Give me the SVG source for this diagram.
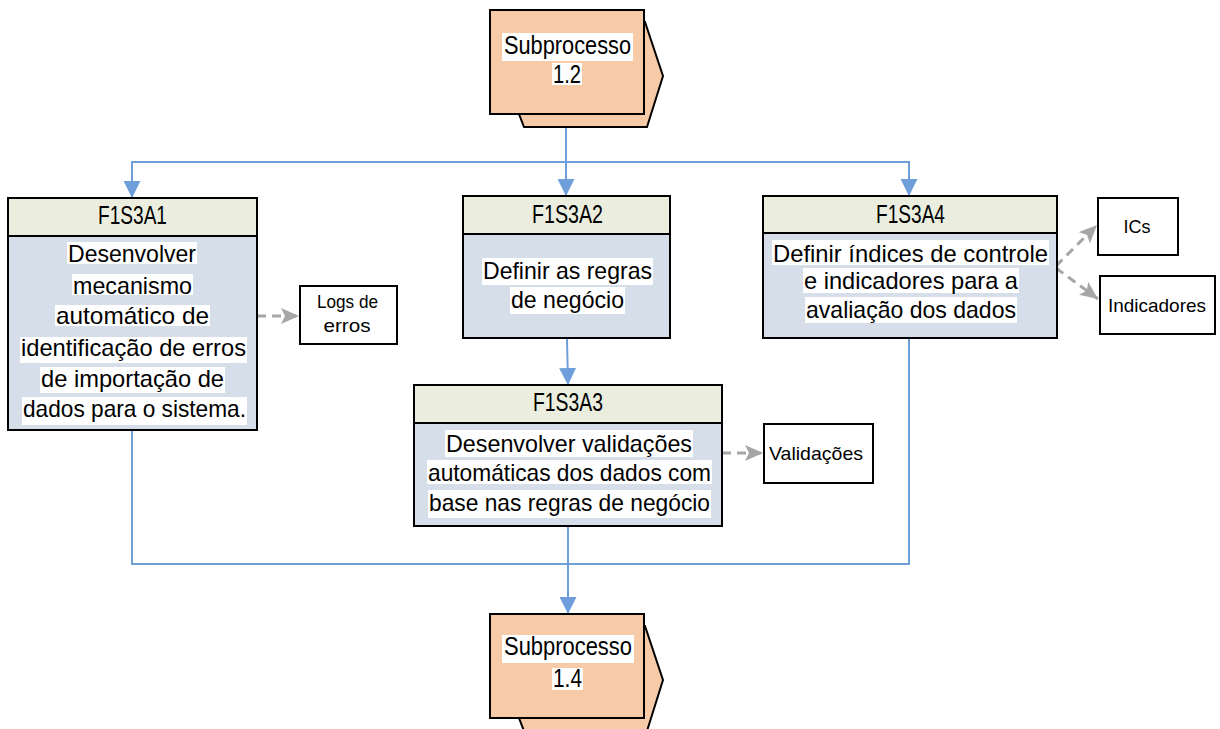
<svg xmlns="http://www.w3.org/2000/svg" width="1220" height="729" viewBox="0 0 1220 729">
  <style>
    .bg { fill: #ffffff; }
    .sub { fill: #F8CBA8; stroke: #000000; stroke-width: 2; }
    .hdr { fill: #EBEEDF; stroke: #000000; stroke-width: 2; }
    .body { fill: #D5DEE9; stroke: #000000; stroke-width: 2; }
    .out { fill: #ffffff; stroke: #000000; stroke-width: 2; }
    .t { font-family: "Liberation Sans", Arial, sans-serif; fill: #000000; text-anchor: middle; }
    .big { font-size: 25px; }
    .mid { font-size: 24px; }
    .sm { font-size: 19px; }
    .flow { fill: none; stroke: #6F9FDB; stroke-width: 2; }
    .flowA { fill: none; stroke: #6F9FDB; stroke-width: 2; marker-end: url(#blueHead); }
    .art { fill: none; stroke: #A6A6A6; stroke-width: 3; stroke-dasharray: 9 6; marker-end: url(#grayHead); }
  </style>
  <defs>
    <marker id="blueHead" markerUnits="userSpaceOnUse" viewBox="0 0 17 17" markerWidth="17" markerHeight="17" refX="17" refY="8.5" orient="auto">
      <path d="M0,0 L17,8.5 L0,17 z" fill="#6F9FDB"/>
    </marker>
    <marker id="grayHead" markerUnits="userSpaceOnUse" viewBox="0 0 18 16" markerWidth="18" markerHeight="16" refX="18" refY="8" orient="auto">
      <path d="M0,0 L18,8 L0,16 L4,8 z" fill="#A6A6A6"/>
    </marker>
  </defs>

  <!-- flow connectors -->
  <g id="connectors">
    <path class="flowA" d="M566,115 V162 H132 V198"/>
    <path class="flowA" d="M566,162 V196"/>
    <path class="flowA" d="M566,162 H909 V196"/>
    <path class="flowA" d="M567,338 L568,385"/>
    <path class="flow" d="M132,430 V564 H909 V338"/>
    <path class="flowA" d="M568,526 V614"/>
    <path class="art" d="M257,316 H299"/>
    <path class="art" d="M722,453 H763"/>
    <path class="art" d="M1056,266 L1097,225"/>
    <path class="art" d="M1056,268 L1098,299"/>
  </g>

  <!-- Subprocesso 1.2 -->
  <g id="sub12">
    <polygon class="sub" points="510,22 645,22 663,76 647,127 524,127 519,114"/>
    <rect class="sub" x="490" y="10" width="154" height="104"/>
    <rect class="bg" x="502" y="33" width="131" height="28"/>
    <rect class="bg" x="552" y="63" width="30" height="22"/>
    <text class="t big" x="567.5" y="54" textLength="127" lengthAdjust="spacingAndGlyphs">Subprocesso</text>
    <text class="t big" x="567" y="83" textLength="28" lengthAdjust="spacingAndGlyphs">1.2</text>
  </g>

  <!-- F1S3A1 -->
  <g id="f1s3a1">
    <rect class="body" x="8" y="198" width="249" height="232"/>
    <rect class="hdr" x="8" y="198" width="249" height="38"/>
    <text class="t big" x="132.5" y="224" textLength="69" lengthAdjust="spacingAndGlyphs">F1S3A1</text>
    <rect class="bg" x="67" y="242" width="130" height="22"/>
    <rect class="bg" x="72" y="274" width="121" height="21"/>
    <rect class="bg" x="55" y="305" width="155" height="21"/>
    <rect class="bg" x="20" y="337" width="227" height="26"/>
    <rect class="bg" x="40" y="367" width="185" height="26"/>
    <rect class="bg" x="22" y="397" width="225" height="28"/>
    <text class="t mid" x="132" y="262" textLength="128" lengthAdjust="spacingAndGlyphs">Desenvolver</text>
    <text class="t mid" x="132.5" y="294" textLength="119" lengthAdjust="spacingAndGlyphs">mecanismo</text>
    <text class="t mid" x="132.5" y="324" textLength="153" lengthAdjust="spacingAndGlyphs">automático de</text>
    <text class="t mid" x="133.5" y="356" textLength="225" lengthAdjust="spacingAndGlyphs">identificação de erros</text>
    <text class="t mid" x="132.5" y="387" textLength="183" lengthAdjust="spacingAndGlyphs">de importação de</text>
    <text class="t mid" x="134.5" y="417" textLength="223" lengthAdjust="spacingAndGlyphs">dados para o sistema.</text>
  </g>

  <!-- Logs de erros -->
  <g id="logs">
    <rect class="out" x="300" y="286" width="97" height="58"/>
    <text class="t sm" x="347.5" y="308" textLength="61" lengthAdjust="spacingAndGlyphs">Logs de</text>
    <text class="t sm" x="347" y="332" textLength="47" lengthAdjust="spacingAndGlyphs">erros</text>
  </g>

  <!-- F1S3A2 -->
  <g id="f1s3a2">
    <rect class="body" x="463" y="196" width="207" height="142"/>
    <rect class="hdr" x="463" y="196" width="207" height="38"/>
    <text class="t big" x="567.5" y="223" textLength="71" lengthAdjust="spacingAndGlyphs">F1S3A2</text>
    <rect class="bg" x="482" y="258" width="171" height="27"/>
    <rect class="bg" x="510" y="287" width="115" height="27"/>
    <text class="t mid" x="567.5" y="279" textLength="169" lengthAdjust="spacingAndGlyphs">Definir as regras</text>
    <text class="t mid" x="567.5" y="308" textLength="113" lengthAdjust="spacingAndGlyphs">de negócio</text>
  </g>

  <!-- F1S3A3 -->
  <g id="f1s3a3">
    <rect class="body" x="414" y="385" width="308" height="141"/>
    <rect class="hdr" x="414" y="385" width="308" height="38"/>
    <text class="t big" x="568" y="411" textLength="70" lengthAdjust="spacingAndGlyphs">F1S3A3</text>
    <rect class="bg" x="445" y="430" width="248" height="27"/>
    <rect class="bg" x="427" y="460" width="285" height="24"/>
    <rect class="bg" x="428" y="490" width="283" height="28"/>
    <text class="t mid" x="569" y="452" textLength="246" lengthAdjust="spacingAndGlyphs">Desenvolver validações</text>
    <text class="t mid" x="569.5" y="481" textLength="283" lengthAdjust="spacingAndGlyphs">automáticas dos dados com</text>
    <text class="t mid" x="569.5" y="511" textLength="281" lengthAdjust="spacingAndGlyphs">base nas regras de negócio</text>
  </g>

  <!-- Validações -->
  <g id="validacoes">
    <rect class="out" x="764" y="424" width="109" height="59"/>
    <text class="t sm" x="816" y="460" textLength="94" lengthAdjust="spacingAndGlyphs">Validações</text>
  </g>

  <!-- F1S3A4 -->
  <g id="f1s3a4">
    <rect class="body" x="763" y="196" width="294" height="142"/>
    <rect class="hdr" x="763" y="196" width="294" height="37"/>
    <text class="t big" x="910.5" y="223" textLength="69" lengthAdjust="spacingAndGlyphs">F1S3A4</text>
    <rect class="bg" x="772" y="240" width="277" height="25"/>
    <rect class="bg" x="803" y="268" width="216" height="25"/>
    <rect class="bg" x="805" y="297" width="212" height="26"/>
    <text class="t mid" x="910.5" y="262" textLength="275" lengthAdjust="spacingAndGlyphs">Definir índices de controle</text>
    <text class="t mid" x="911" y="289" textLength="214" lengthAdjust="spacingAndGlyphs">e indicadores para a</text>
    <text class="t mid" x="911" y="318" textLength="210" lengthAdjust="spacingAndGlyphs">avaliação dos dados</text>
  </g>

  <!-- ICs -->
  <g id="ics">
    <rect class="out" x="1098" y="198" width="80" height="57"/>
    <text class="t sm" x="1137" y="233" textLength="27" lengthAdjust="spacingAndGlyphs">ICs</text>
  </g>

  <!-- Indicadores -->
  <g id="indicadores">
    <rect class="out" x="1100" y="276" width="115" height="58"/>
    <text class="t sm" x="1157" y="312" textLength="98" lengthAdjust="spacingAndGlyphs">Indicadores</text>
  </g>

  <!-- Subprocesso 1.4 -->
  <g id="sub14">
    <polygon class="sub" points="510,626 645,626 663,680 647,731 524,731 519,718"/>
    <rect class="sub" x="490" y="614" width="154" height="104"/>
    <rect class="bg" x="502" y="635" width="132" height="28"/>
    <rect class="bg" x="552" y="668" width="31" height="22"/>
    <text class="t big" x="568" y="655" textLength="128" lengthAdjust="spacingAndGlyphs">Subprocesso</text>
    <text class="t big" x="567.5" y="687" textLength="29" lengthAdjust="spacingAndGlyphs">1.4</text>
  </g>
</svg>
